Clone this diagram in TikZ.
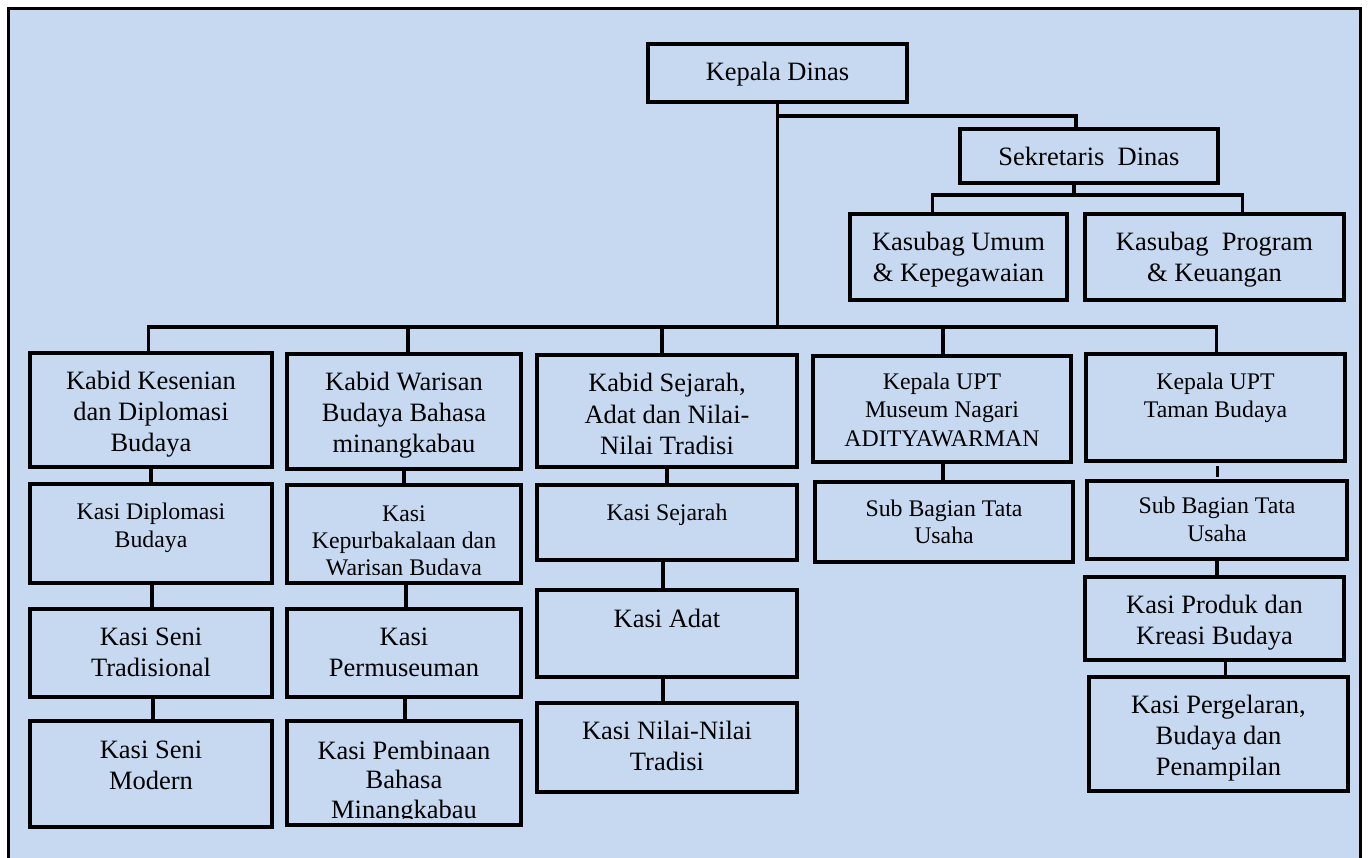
\documentclass[tikz,border=0pt]{standalone}
\usepackage{fontspec}
\setmainfont{Liberation Serif}
\definecolor{bg}{HTML}{C6D9F1}
\newcommand\fbig{\fontsize{26.5pt}{31pt}\selectfont}
\newcommand\fbigt{\fontsize{26.5pt}{29.5pt}\selectfont}
\newcommand\fsmall{\fontsize{23.8pt}{28.8pt}\selectfont}
\newcommand\fsmallt{\fontsize{23.8pt}{27pt}\selectfont}
% name, x1, y1, x2, y2, first-baseline offset, font, text
\newcommand\obox[8]{%
  \node[box, anchor=north west] (#1) at (#2,#3)
  {\parbox[c][\dimexpr#5pt-#3pt\relax][t]{\dimexpr#4pt-#2pt\relax}{\centering#7\rule{0pt}{#6pt}#8}};}
% same, text clipped #9 pt above the bottom border
\newcommand\oboxclip[9]{%
  \node[box, anchor=north west, minimum width={#4pt-#2pt}, minimum height={#5pt-#3pt}, path picture={
    \clip ([yshift=#9pt]path picture bounding box.south west) rectangle (path picture bounding box.north east);
    \node[anchor=north west, inner sep=0pt] (#1-t) at (path picture bounding box.north west)
      {\parbox[t]{\dimexpr#4pt-#2pt\relax}{\centering#7\rule{0pt}{#6pt}#8}};}] (#1) at (#2,#3) {};}
\begin{document}
\begin{tikzpicture}[x=1pt,y=-1pt,
  box/.style={draw=black, line width=4.2pt, fill=bg, inner sep=0pt, outer sep=0pt},
  conn/.style={draw=black, line width=3.3pt},
  frame/.style={draw=black, line width=3pt, fill=bg}]
\useasboundingbox (0,0) rectangle (1370,858);
\clip (0,0) rectangle (1370,858);
\path[frame] (8,9) rectangle (1360,900);

\coordinate (secY) at (0,116);
\coordinate (subY) at (0,195);
\coordinate (busY) at (0,327);

% top
\obox{kd}{648}{44}{907}{102}{37}{\fbig}{Kepala Dinas}
\obox{sd}{960}{129}{1218}{183}{37}{\fbig}{Sekretaris\ \ Dinas}
\obox{ku}{850}{214}{1067}{300}{37}{\fbig}{Kasubag Umum\\\& Kepegawaian}
\obox{kp}{1085}{214}{1344}{300}{37}{\fbig}{Kasubag\ \ Program\\\& Keuangan}

% row 1
\obox{a1}{30}{353}{272}{467}{36}{\fbig}{Kabid Kesenian\\dan Diplomasi\\Budaya}
\obox{b1}{287}{354}{521}{469}{36.5}{\fbig}{Kabid Warisan\\Budaya Bahasa\\minangkabau}
\obox{c1}{537}{355}{797}{467}{37}{\fbig}{Kabid Sejarah,\\Adat dan Nilai-\\Nilai Tradisi}
\obox{d1}{813}{356}{1071}{462}{33}{\fsmall}{Kepala UPT\\Museum Nagari\\ADITYAWARMAN}
\obox{e1}{1086}{354}{1345}{461}{35}{\fsmall}{Kepala UPT\\Taman Budaya}

% row 2
\obox{a2}{30}{484}{272}{583}{35}{\fsmall}{Kasi Diplomasi\\Budaya}
\oboxclip{b2}{287}{485}{521}{583}{34}{\fsmallt}{Kasi\\Kepurbakalaan dan\\Warisan Budaya}{9}
\obox{c2}{537}{485}{797}{560}{35}{\fsmall}{Kasi Sejarah}
\obox{d2}{815}{482}{1073}{562}{34}{\fsmallt}{Sub Bagian Tata\\Usaha}
\obox{e2}{1087}{481}{1347}{559}{32}{\fsmall}{Sub Bagian Tata\\Usaha}

% row 3
\obox{a3}{30}{609}{272}{697}{36}{\fbig}{Kasi Seni\\Tradisional}
\obox{b3}{287}{609}{521}{697}{36}{\fbig}{Kasi\\Permuseuman}
\obox{c3}{537}{590}{797}{677}{37}{\fbig}{Kasi Adat}
\obox{e3}{1085}{577}{1344}{660}{36}{\fbig}{Kasi Produk dan\\Kreasi Budaya}

% row 4
\obox{a4}{30}{721}{272}{827}{37}{\fbig}{Kasi Seni\\Modern}
\oboxclip{b4}{287}{721}{521}{825}{37}{\fbigt}{Kasi Pembinaan\\Bahasa\\Minangkabau}{7}
\obox{c4}{537}{703}{797}{792}{36}{\fbig}{Kasi Nilai-Nilai\\Tradisi}
\obox{e4}{1089}{677}{1348}{791}{36}{\fbig}{Kasi Pergelaran,\\Budaya dan\\Penampilan}

% connectors
\draw[conn] (kd.south) -- (kd.south |- busY);
\draw[conn] (kd.south |- secY) -| ([xshift=-13pt]sd.north);
\draw[conn] ([xshift=-15pt]sd.south) -- ([xshift=-15pt]sd.south |- subY);
\draw[conn] ([xshift=-26pt]ku.north) |- ([xshift=28pt]kp.north |- subY) -- ([xshift=28pt]kp.north);
\draw[conn] ([xshift=-2.5pt]a1.north) |- ([xshift=1pt]e1.north |- busY) -- ([xshift=1pt]e1.north);
\draw[conn] ([xshift=4pt]b1.north) -- ([xshift=4pt]b1.north |- busY);
\draw[conn] ([xshift=-5pt]c1.north) -- ([xshift=-5pt]c1.north |- busY);
\draw[conn] ([xshift=1pt]d1.north) -- ([xshift=1pt]d1.north |- busY);

\draw[conn] (a1.south) -- (a1.south |- a2.north);
\draw[conn] ([xshift=1pt]a2.south) -- ([xshift=1pt]a2.south |- a3.north);
\draw[conn] ([xshift=2pt]a3.south) -- ([xshift=2pt]a3.south |- a4.north);
\draw[conn] (b1.south) -- (b1.south |- b2.north);
\draw[conn] ([xshift=2pt]b2.south) -- ([xshift=2pt]b2.south |- b3.north);
\draw[conn] ([xshift=1pt]b3.south) -- ([xshift=1pt]b3.south |- b4.north);
\draw[conn] (c1.south) -- (c1.south |- c2.north);
\draw[conn] ([xshift=-4pt]c2.south) -- ([xshift=-4pt]c2.south |- c3.north);
\draw[conn] ([xshift=-4pt]c3.south) -- ([xshift=-4pt]c3.south |- c4.north);
\draw[conn] ([xshift=1pt]d1.south) -- ([xshift=1pt]d1.south |- d2.north);
\draw[conn, shorten <=5pt, shorten >=4pt] ([xshift=2pt]e1.south) -- ([xshift=2pt]e1.south |- e2.north);
\draw[conn] (e2.south) -- (e2.south |- e3.north);
\draw[conn] ([xshift=11pt]e3.south) -- ([xshift=11pt]e3.south |- e4.north);
\end{tikzpicture}
\end{document}
